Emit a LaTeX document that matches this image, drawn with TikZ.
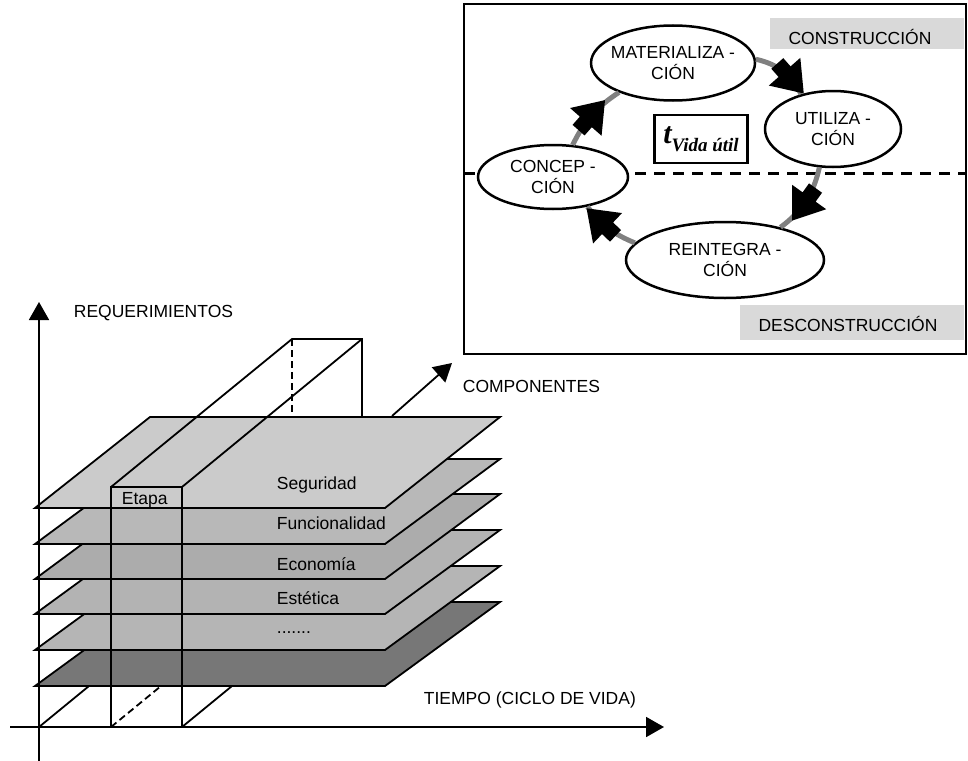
\documentclass[tikz,border=0pt]{standalone}
\usepackage{fontspec}
\setmainfont{Liberation Sans}
\newfontfamily\timesbi{Liberation Serif}
\usepackage{tikz}
\usetikzlibrary{positioning,arrows.meta,shapes.geometric,decorations.markings}

\definecolor{planeA}{HTML}{CBCBCB}
\definecolor{planeB}{HTML}{B8B8B8}
\definecolor{planeC}{HTML}{ACACAC}
\definecolor{planeD}{HTML}{B3B3B3}
\definecolor{planeE}{HTML}{B5B5B5}
\definecolor{planeF}{HTML}{777777}
\definecolor{barfill}{HTML}{D9D9D9}
\definecolor{cycgray}{HTML}{808080}

% fat black arrow put on the cycle connectors
\def \blockhead {\fill[black] (-20,-8) -- (-9,-8) -- (-9,-21) -- (20,0) -- (-9,21) -- (-9,8) -- (-20,8) -- cycle;}

\begin{document}
\begin{tikzpicture}[x=1pt, y=-1pt, line width=1.8pt,
    lbl/.style={font=\fontsize{17.5}{20.5}\selectfont, inner sep=0pt},
    axis/.style={-{Triangle[width=20pt,length=18pt]}},
    hidden/.style={dash pattern=on 7pt off 4pt},
    phase/.style={ellipse, draw, line width=2.5pt, fill=white, inner sep=0pt},
    cyc/.style={draw=cycgray, line width=5pt,
      postaction={decorate, decoration={markings, mark=at position #1 with {\blockhead}}}}]
  \useasboundingbox (0,0) rectangle (968,760);

  % Requirement layers, lowest first
  \foreach \yf/\yb/\col in {686/602/planeF, 650/566/planeE, 614/530/planeD,
                            579/494/planeC, 544/459/planeB, 508/417/planeA}
    \filldraw[fill=\col] (35,\yf) -- (385,\yf) -- (500,\yb) -- (150,\yb) -- cycle;

  % Stage prism
  \draw (111,487) rectangle (182,727);
  \draw (111,487) -- (292,339) -- (362,339) -- (362,417);
  \draw (182,487) -- (362,339);
  \draw[hidden] (292,339) -- (292,417);
  \draw[hidden] (111,727) -- (161,686);
  \draw (182,727) -- (232,686);

  % Axes
  \coordinate (origin) at (39,727);
  \coordinate (depth) at (89,686);
  \coordinate (reqtip) at (39,302);
  \coordinate (reqfoot) at (39,762);
  \coordinate (timestart) at (10,727);
  \coordinate (timetip) at (664,727);
  \coordinate (compstart) at (392,416);
  \coordinate (comptip) at (452,363);
  \draw (origin) -- (depth);
  \draw[axis] (reqfoot) -- (reqtip);
  \draw[axis] (timestart) -- (timetip);
  \draw[axis] (compstart) -- (comptip);

  \node[lbl, anchor=west] (req) at (73,313) {REQUERIMIENTOS};
  \node[lbl, anchor=west] (comp) at (462,386) {COMPONENTES};
  \node[lbl, anchor=west] (tiempo) at (423,700) {TIEMPO (CICLO DE VIDA)};
  \node[lbl, anchor=west] (etapa) at (121,500) {Etapa};
  \node[lbl, anchor=west] (seg) at (276,485) {Seguridad};
  \node[lbl, anchor=west] (func) at (276,523) {Funcionalidad};
  \node[lbl, anchor=west] (eco) at (276,564) {Econom\'ia};
  \node[lbl, anchor=west] (est) at (276,598) {Est\'etica};
  \node[lbl, anchor=west] (etc) at (276,633) {.......};

  % Life cycle panel
  \draw[line width=2.5pt] (464,4) rectangle (966,354);
  \fill[barfill] (770,18) rectangle (964,49);
  \fill[barfill] (740,305) rectangle (964,340);
  \node[lbl] (constr) at (860,37) {CONSTRUCCIÓN};
  \node[lbl] (deconstr) at (848,324) {DESCONSTRUCCIÓN};
  \draw[line width=3pt, dash pattern=on 11pt off 8pt] (464,173) -- (966,173);

  \node[phase, minimum width=164pt, minimum height=75pt,
        label={[lbl,align=center]center:MATERIALIZA -\\CIÓN}] (mat) at (673,63) {};
  \node[phase, minimum width=136pt, minimum height=76pt,
        label={[lbl,align=center]center:UTILIZA -\\CIÓN}] (uti) at (833,129) {};
  \node[phase, minimum width=150pt, minimum height=64pt,
        label={[lbl,align=center]center:CONCEP -\\CIÓN}] (conc) at (553,177) {};
  \node[phase, minimum width=198pt, minimum height=76pt,
        label={[lbl,align=center]center:REINTEGRA -\\CIÓN}] (rein) at (725,260) {};

  \draw[cyc=0.5] (conc) to[bend left=15] (mat);
  \draw[cyc=0.68] (mat) to[bend left=25] (uti);
  \draw[cyc=0.55] (uti) to[bend left=20] (rein);
  \draw[cyc=0.66] (rein) to[bend left=15] (conc);

  \node[draw, line width=2.5pt, minimum width=93pt, minimum height=48pt, inner sep=0pt] (tvida) at (701,139)
    {{\timesbi\bfseries\itshape\fontsize{30}{30}\selectfont t}{\timesbi\bfseries\itshape\fontsize{19}{19}\selectfont\raisebox{-8pt}{Vida útil}}};
\end{tikzpicture}
\end{document}
